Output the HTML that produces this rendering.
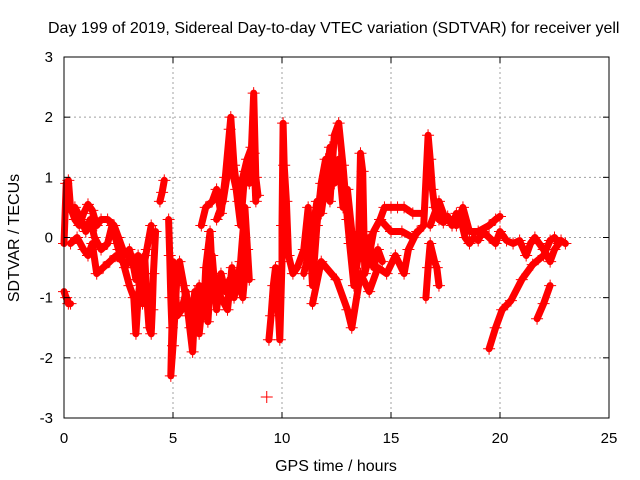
<!DOCTYPE html>
<html><head><meta charset="utf-8"><style>
html,body{margin:0;padding:0;background:#fff;width:640px;height:480px;overflow:hidden}
svg{display:block;font-family:"Liberation Sans",sans-serif}
</style></head><body>
<svg id="chart" width="640" height="480" viewBox="0 0 640 480" xmlns="http://www.w3.org/2000/svg">
<rect width="640" height="480" fill="#fff"/>
<g id="grid"></g>
<g id="series"></g>
<rect x="64" y="57" width="545" height="361" fill="none" stroke="#000" stroke-width="1"/>
<g id="ticks" font-size="15" fill="#000"></g>
<text x="48" y="33" font-size="16">Day 199 of 2019, Sidereal Day-to-day VTEC variation (SDTVAR) for receiver yell</text>
<text transform="translate(19,238) rotate(-90)" text-anchor="middle" font-size="16">SDTVAR / TECUs</text>
<text x="336" y="471" text-anchor="middle" font-size="16">GPS time / hours</text>
</svg>
<script>
const xTicks=[0,5,10,15,20,25];
const yTicks=[-3,-2,-1,0,1,2,3];
const track1=[[0,-0.1],[0.1,0.9],[0.2,0.95],[0.3,0.5],[0.5,0.3],[0.7,0.2],[0.9,0.4],[1.1,0.55],[1.3,0.45],[1.5,0.2],[1.7,0.3],[2,0.3],[2.3,0.2],[2.5,0.0],[2.8,-0.3],[3,-0.2],[3.2,-0.5],[3.4,-0.3],[3.6,-0.6],[3.8,-0.2],[4.0,0.2]];
const track2=[[0.3,-0.1],[0.6,0.0],[0.9,-0.2],[1.1,-0.3],[1.3,-0.1],[1.5,-0.6],[1.8,-0.5],[2.1,-0.4],[2.4,-0.3],[2.7,-0.4],[3.0,-0.8],[3.2,-1.0],[3.3,-1.6],[3.4,-1.0],[3.5,-0.7]];
const track2b=[[0.5,0.5],[0.8,0.3],[1.0,0.1],[1.2,0.3],[1.4,0.0],[1.7,-0.2],[2.0,-0.1],[2.2,0.2],[2.5,-0.2],[2.8,-0.5],[3.1,-0.3],[3.3,-0.7],[3.5,-0.4],[3.6,-1.1],[3.7,-0.6]];
const track3=[[3.7,-0.3],[3.8,-1.0],[3.9,-1.5],[4.0,-1.6],[4.05,-1.2],[4.1,-0.6],[4.2,0.1]];
const track4=[[0,-0.9],[0.1,-1.0],[0.2,-1.1],[0.3,-1.1]];
const track5=[[4.4,0.6],[4.5,0.75],[4.6,0.95]];
const track6=[[4.8,0.3],[4.85,-0.3],[4.9,-1.0],[4.95,-1.5],[4.9,-2.3],[5.0,-1.8],[5.1,-1.2],[5.2,-0.5],[5.3,-0.4],[5.5,-0.8],[5.7,-1.3],[5.9,-1.9],[6.0,-1.2],[6.2,-0.8],[6.4,-1.3],[6.5,-0.5],[6.6,-0.2],[6.7,0.1],[6.8,-0.6],[7.0,-0.8],[7.2,-1.0],[7.5,-1.2],[7.7,-0.5],[7.9,-0.9],[8.1,-0.4],[8.3,0.5],[8.5,-0.7]];
const track6b=[[5.0,-0.4],[5.2,-1.3],[5.4,-1.2],[5.6,-0.9],[5.8,-1.5],[6.0,-0.9],[6.2,-1.6],[6.4,-0.9],[6.6,-1.4],[6.8,-0.3],[7.0,-1.2],[7.2,-0.6],[7.4,-0.9],[7.6,-0.7],[7.8,-1.0],[8.0,-0.7],[8.2,-1.0],[8.4,-0.2]];
const track7=[[6.3,0.2],[6.5,0.5],[6.8,0.6],[7.0,0.8],[7.2,0.4],[7.4,1.0],[7.6,1.8],[7.65,2.0],[7.8,1.2],[8.0,0.6],[8.2,1.0],[8.4,1.3],[8.6,1.5],[8.7,2.4],[8.8,1.0],[8.9,0.7]];
const track7b=[[7.0,0.3],[7.3,0.6],[7.6,1.3],[7.9,0.8],[8.1,0.2],[8.3,1.1],[8.5,0.9],[8.7,1.4],[8.8,0.6]];
const track8=[[9.3,-2.65]];
const track9=[[9.4,-1.7],[9.5,-1.3],[9.6,-0.8],[9.7,-0.5],[9.8,-1.0],[9.9,-1.7],[10.0,-0.4],[10.0,0.2],[10.05,1.9],[10.1,1.2],[10.2,0.6],[10.3,-0.3],[10.5,-0.6],[10.7,-0.5],[11.0,-0.2],[11.2,0.5],[11.4,-0.8],[11.6,0.2],[11.8,0.9],[12.0,1.3],[12.2,0.6],[12.4,1.7],[12.6,1.9],[12.8,1.2],[13.0,0.3],[13.1,-0.1],[13.3,-0.8],[13.5,-0.3],[13.6,1.4],[13.7,1.1],[13.8,-0.6],[14.0,-0.3],[14.2,0.1],[14.5,0.3],[14.7,0.5],[15,0.5],[15.3,0.5],[15.6,0.5],[16,0.4],[16.4,0.4]];
const track9b=[[11.0,-0.6],[11.2,-0.3],[11.4,0.1],[11.6,0.6],[11.8,0.4],[12.0,0.9],[12.2,1.5],[12.4,0.9],[12.6,1.3],[12.8,0.5],[13.0,0.8],[13.2,0.1],[13.4,-0.3],[13.6,0.0],[13.8,-0.4],[14.0,0.0],[14.2,-0.5],[14.4,-0.2],[14.6,-0.4]];
const track10=[[11.4,-1.1],[11.8,-0.4],[12.5,-0.7],[13.0,-1.2],[13.2,-1.5],[13.6,-0.6],[14.0,-0.9],[14.4,-0.5],[14.8,-0.6],[15.2,-0.3],[15.6,-0.6],[15.8,-0.2],[16.2,0.1]];
const track11=[[14.5,0.3],[15,0.1],[15.5,0.1],[16,0.0],[16.5,0.2],[16.7,1.7],[16.8,1.3],[16.9,0.8],[17.0,0.5],[17.2,0.3],[17.4,0.25],[17.6,0.35],[17.8,0.2],[18.0,0.4],[18.2,0.3],[18.4,0.0],[18.6,-0.1],[18.8,0.0],[19.0,-0.05],[19.2,0.1],[19.5,0.0],[19.8,-0.1],[20,0.1],[20.3,-0.05],[20.6,-0.1],[20.9,-0.05],[21.2,-0.3],[21.4,-0.1],[21.6,0.0],[21.8,-0.1],[22,-0.2],[22.3,-0.4],[22.5,-0.2],[22.8,-0.05],[23.0,-0.1]];
const track12=[[16.8,0.2],[17.2,0.6],[17.5,0.3],[18.0,0.2],[18.3,0.5],[18.6,0.1],[19.0,0.1],[19.5,0.2],[19.8,0.3],[20.0,0.35]];
const track13=[[16.6,-1.0],[16.7,-0.5],[16.8,-0.1],[17.0,-0.4],[17.1,-0.5],[17.2,-0.8]];
const track14=[[19.5,-1.85],[19.8,-1.5],[20.1,-1.2],[20.5,-1.05],[21.0,-0.7],[21.5,-0.45],[22.0,-0.3],[22.3,-0.05],[22.5,0.0],[22.7,-0.1]];
const track15=[[21.7,-1.35],[22.0,-1.1],[22.3,-0.8]];
const tracks=[track1,track2,track2b,track3,track4,track5,track6,track6b,track7,track7b,track8,track9,track9b,track10,track11,track12,track13,track14,track15];
const NS='http://www.w3.org/2000/svg';
const X0=64,X1=609,Y0=418,Y1=57;
function sx(t){return X0+(t-0)/(25-0)*(X1-X0);}
function sy(v){return Y0-(v+3)/6*(Y0-Y1);}
const grid=document.getElementById('grid'),ticks=document.getElementById('ticks'),ser=document.getElementById('series');
function mk(tag,attrs,parent){const e=document.createElementNS(NS,tag);for(const k in attrs)e.setAttribute(k,attrs[k]);parent.appendChild(e);return e;}
xTicks.forEach(t=>{const x=sx(t);
 if(t>0&&t<25){const g=mk('line',{x1:x,x2:x,y1:Y1,y2:Y0,stroke:'#a0a0a0','stroke-dasharray':'2,3'},grid);}
 const l=mk('text',{x:x,y:443,'text-anchor':'middle'},ticks);l.textContent=t;
 
 
 mk('line',{x1:x,x2:x,y1:Y0,y2:Y0-6,stroke:'#000'},ticks);mk('line',{x1:x,x2:x,y1:Y1,y2:Y1+6,stroke:'#000'},ticks);
});
yTicks.forEach(v=>{const y=sy(v);
 if(v>-3&&v<3){const g=mk('line',{x1:X0,x2:X1,y1:y,y2:y,stroke:'#a0a0a0','stroke-dasharray':'2,3'},grid);}
 const l=mk('text',{x:53,y:y+5,'text-anchor':'end'},ticks);l.textContent=v;
 
 
 mk('line',{x1:X0,x2:X0+6,y1:y,y2:y,stroke:'#000'},ticks);mk('line',{x1:X1,x2:X1-6,y1:y,y2:y,stroke:'#000'},ticks);
});
tracks.forEach((tr,i)=>{
 const d=tr.map((p,j)=>(j?'L':'M')+sx(p[0]).toFixed(1)+' '+sy(p[1]).toFixed(1)).join(' ');
 const p=mk('path',{d:d,fill:'none',stroke:'#f00','stroke-width':7,'stroke-linejoin':'round','stroke-linecap':'round'},ser);
 
 
 tr.forEach(pt=>{const x=sx(pt[0]),y=sy(pt[1]);
  const m=mk('path',{d:`M${x-6} ${y}H${x+6}M${x} ${y-6}V${y+6}`,stroke:'#f00','stroke-width':1},ser);
  
  
 });
});
</script>
</body></html>
